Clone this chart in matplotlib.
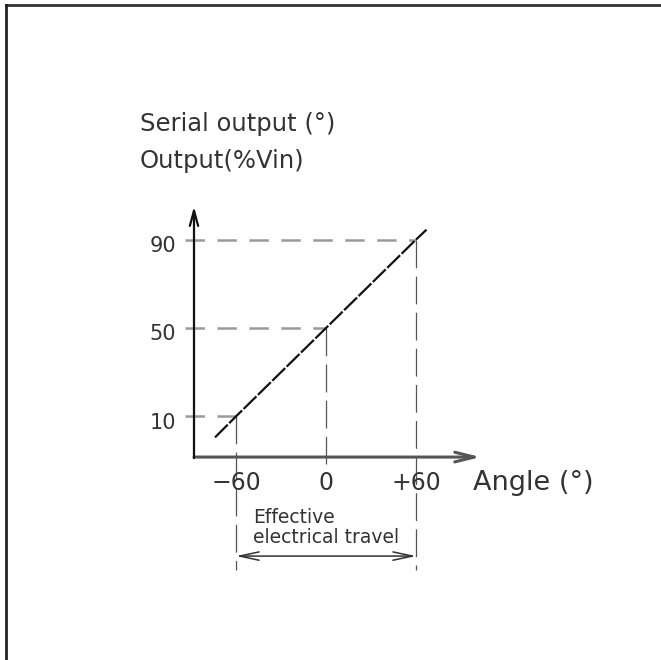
import matplotlib.pyplot as plt
from matplotlib.lines import Line2D

# values
marked_angles = [-60, 0, 60]
marked_outputs = [10, 50, 90]
angle_labels = ['\u221260', '0', '+60']
output_labels = ['10', '50', '90']
line_angles = [-74, -60, 0, 60, 67]
line_outputs = [0.5, 10, 50, 90, 94.5]

# axis frame of the sketch (data units)
axis_angle0, axis_angle1 = -88, 103
axis_out0, axis_out1 = -8.4, 105
travel_out = -53.2

plt.rcParams['lines.scale_dashes'] = False
text_color = '#333333'

fig = plt.figure(figsize=(6.61, 6.60), dpi=100)
ax = fig.add_axes([0, 0, 1, 1])
# 1.5 px per degree, 2.21 px per output unit, origin at pixel (326, 328)
ax.set_xlim(-326 / 1.5, (661 - 326) / 1.5)
ax.set_ylim(50 - (660 - 328) / 2.21, 50 + 328 / 2.21)
ax.axis('off')

# image frame (top and left edges only)
fig.add_artist(Line2D([6 / 661, 1], [1 - 5 / 660, 1 - 5 / 660], color='#333333', lw=2))
fig.add_artist(Line2D([6 / 661, 6 / 661], [0, 1 - 5 / 660], color='#222222', lw=2))

# axes with open arrowheads
ax.annotate('', xy=(axis_angle1, axis_out0), xytext=(axis_angle0, axis_out0),
            arrowprops=dict(arrowstyle='->,head_length=1.4,head_width=0.35', color='#555555', lw=2.2,
                            shrinkA=0, shrinkB=0))
ax.annotate('', xy=(axis_angle0, axis_out1), xytext=(axis_angle0, axis_out0 - 0.5),
            arrowprops=dict(arrowstyle='->,head_length=1.1,head_width=0.3', color='#111111', lw=1.6,
                            shrinkA=0, shrinkB=0))

# horizontal guide lines from the y axis to each marked point
for a, v in zip(marked_angles, marked_outputs):
    ax.plot([axis_angle0 - 6, a], [v, v], color='#9a9a9a', lw=1.8, dashes=(14, 9))

# vertical guide lines from each marked point down
low_ends = [travel_out - 6.5, axis_out0 - 3, travel_out - 6.5]
for a, v, lo in zip(marked_angles, marked_outputs, low_ends):
    ax.plot([a, a], [v, lo], color='#555555', lw=0.9, dashes=(20, 6))

# characteristic line
ax.plot(line_angles, line_outputs, color='#111111', lw=1.6, dashes=(13, 1.5))

# tick labels
for v, lab in zip(marked_outputs, output_labels):
    ax.text(-100, v - 5.5, lab, ha='right', va='baseline', fontsize=15, color=text_color)
for a, lab in zip(marked_angles, angle_labels):
    ax.text(a, -23.5, lab, ha='center', va='baseline', fontsize=17, color=text_color)

ax.text(98, -23.5, 'Angle (\u00b0)', ha='left', va='baseline', fontsize=19.5, color=text_color)
ax.text(-124, 89.1 + 50, 'Serial output (\u00b0)', ha='left', va='baseline', fontsize=17.5, color=text_color)
ax.text(-124, 122.4, 'Output(%Vin)', ha='left', va='baseline', fontsize=17.5, color=text_color)

# effective electrical travel
ax.annotate('', xy=(marked_angles[-1], travel_out), xytext=(marked_angles[0], travel_out),
            arrowprops=dict(arrowstyle='<->,head_length=1.4,head_width=0.3', color='#333333', lw=1.1,
                            shrinkA=0, shrinkB=0))
ax.text(-48.7, -38.2, 'Effective', ha='left', va='baseline', fontsize=13.5, color=text_color)
ax.text(-48.7, -47.3, 'electrical travel', ha='left', va='baseline', fontsize=13.5, color=text_color)

fig.savefig('out.png', dpi=100, facecolor='white')
